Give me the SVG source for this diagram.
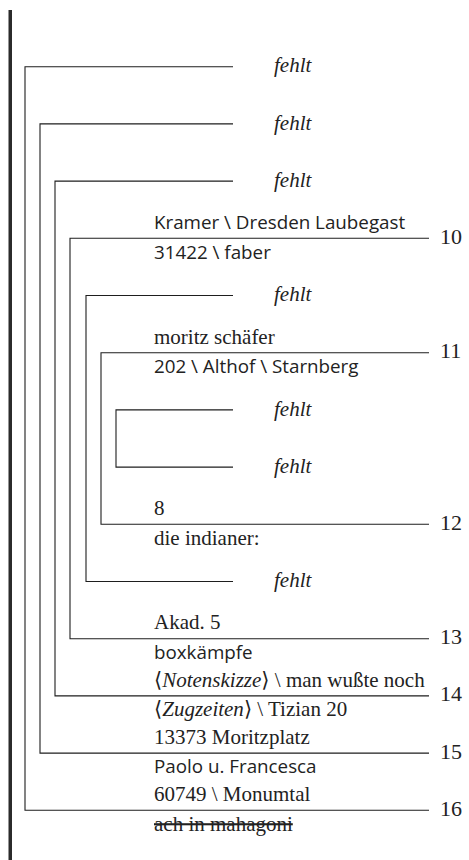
<svg xmlns="http://www.w3.org/2000/svg" width="469" height="860" viewBox="0 0 469 860">
<style>
.br{fill:none;stroke:#1e1e1e;stroke-width:1.1}
.f{font-family:"Liberation Serif","DejaVu Serif",serif;font-style:italic;font-size:21px;fill:#222}
.s{font-family:"Liberation Serif","DejaVu Serif",serif;font-size:21px;fill:#222}
.a{font-family:"Open Sans","Noto Sans","DejaVu Sans",sans-serif;font-size:18.8px;fill:#222}
.n{font-family:"Liberation Serif","DejaVu Serif",serif;font-size:22px;fill:#222}
.i{font-style:italic}
</style>
<rect x="8.5" y="10" width="3.5" height="850" fill="#2b2b2b"/>
<g id="connectors">
<path class="br" d="M233,66.7 H25 V810.3 H429"/>
<path class="br" d="M233,123.9 H40 V753.1 H429"/>
<path class="br" d="M233,181.1 H55 V695.9 H429"/>
<path class="br" d="M429,238.3 H70 V638.7 H429"/>
<path class="br" d="M233,295.5 H86 V581.5 H233"/>
<path class="br" d="M429,352.7 H101 V524.3 H429"/>
<path class="br" d="M233,409.9 H116 V467.1 H233"/>
</g>
<g id="row1"><text class="f" x="274" y="72.3">fehlt</text></g>
<g id="row2"><text class="f" x="274" y="129.5">fehlt</text></g>
<g id="row3"><text class="f" x="274" y="186.7">fehlt</text></g>
<g id="row4">
<text class="a" x="154" y="229">Kramer \ Dresden Laubegast</text>
<text class="a" x="154" y="258.6">31422 \ faber</text>
<text class="n" x="440" y="243.8">10</text>
</g>
<g id="row5"><text class="f" x="274" y="301.1">fehlt</text></g>
<g id="row6">
<text class="s" x="154" y="343.6">moritz schäfer</text>
<text class="a" x="154" y="373">202 \ Althof \ Starnberg</text>
<text class="n" x="440" y="358.2">11</text>
</g>
<g id="row7"><text class="f" x="274" y="415.5">fehlt</text></g>
<g id="row8"><text class="f" x="274" y="472.7">fehlt</text></g>
<g id="row9">
<text class="s" x="154" y="515">8</text>
<text class="s" x="154" y="544.6">die indianer:</text>
<text class="n" x="440" y="529.8">12</text>
</g>
<g id="row10"><text class="f" x="274" y="587.1">fehlt</text></g>
<g id="row11">
<text class="s" x="154" y="629.4">Akad. 5</text>
<text class="a" x="154" y="659">boxkämpfe</text>
<text class="n" x="440" y="644.2">13</text>
</g>
<g id="row12">
<text class="s" x="154" y="686.6">⟨<tspan class="i">Notenskizze</tspan>⟩ \ man wußte noch</text>
<text class="s" x="154" y="716.2">⟨<tspan class="i">Zugzeiten</tspan>⟩ \ Tizian 20</text>
<text class="n" x="440" y="701.4">14</text>
</g>
<g id="row13">
<text class="s" x="154" y="743.8">13373 Moritzplatz</text>
<text class="a" x="154" y="773.4">Paolo u. Francesca</text>
<text class="n" x="440" y="758.6">15</text>
</g>
<g id="row14">
<text class="s" x="154" y="801">60749 \ Monumtal</text>
<text class="s" x="154" y="830.6" text-decoration="line-through">ach in mahagoni</text>
<text class="n" x="440" y="815.8">16</text>
</g>
</svg>
